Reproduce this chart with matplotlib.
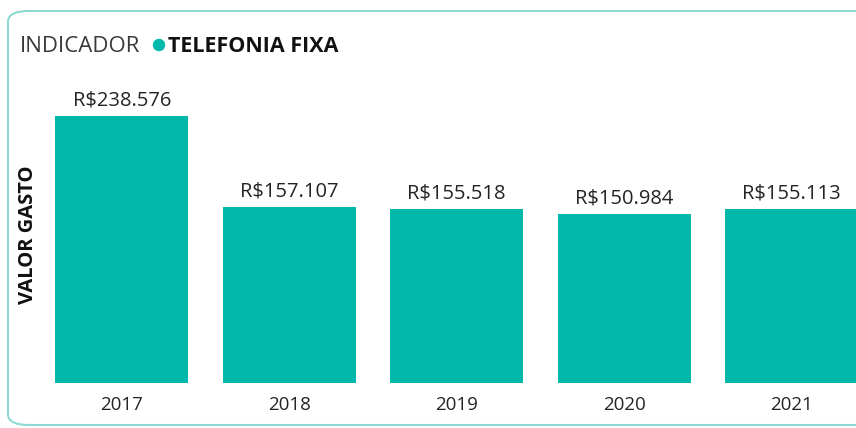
import matplotlib.pyplot as plt
from matplotlib.patches import FancyBboxPatch, Ellipse

anos = ['2017', '2018', '2019', '2020', '2021']
valores = [238576, 157107, 155518, 150984, 155113]
rotulos = ['R$238.576', 'R$157.107', 'R$155.518', 'R$150.984', 'R$155.113']

cor_barra = '#01B8AA'
plt.rcParams['font.family'] = ['Open Sans', 'DejaVu Sans']

fig = plt.figure(figsize=(8.56, 4.28), dpi=100)

# moldura arredondada do visual
borda = FancyBboxPatch((8 / 856, 3 / 428), 880 / 856, 414 / 428,
                       boxstyle='round,pad=0,rounding_size=0.025',
                       transform=fig.transFigure, facecolor='white',
                       edgecolor='#8ED9D2', linewidth=1.5, zorder=-1)
fig.patches.append(borda)

ax = fig.add_axes([38 / 856, 45 / 428, 818 / 856, 303 / 428])
ax.set_facecolor('none')
x = list(range(len(anos)))
ax.bar(x, valores, width=0.795, color=cor_barra)
ax.set_xlim(-0.5, 4.385)
ax.set_ylim(0, 238576 * 303 / 267)

for xi, v, r in zip(x, valores, rotulos):
    ax.annotate(r, (xi, v), xytext=(0, 4), textcoords='offset points',
                ha='center', va='bottom', fontsize=14.5, color='#252423')

ax.set_xticks(x)
ax.set_xticklabels(anos, fontsize=13.5, color='#252423')
ax.tick_params(axis='x', length=0, pad=9)
ax.set_yticks([])
for s in ax.spines.values():
    s.set_visible(False)

fig.text(28 / 856, 1 - 235 / 428, 'VALOR GASTO', rotation=90, ha='center',
         va='center', fontsize=14.5, fontweight='bold', color='#111111')

# legenda
fig.text(20 / 856, 1 - 46 / 428, 'INDICADOR', ha='left', va='center',
         fontsize=16, color='#3B3A39')
fig.patches.append(Ellipse((159 / 856, 1 - 45 / 428), 11 / 856, 11 / 428,
                           transform=fig.transFigure, color=cor_barra))
fig.text(168 / 856, 1 - 46 / 428, 'TELEFONIA FIXA', ha='left', va='center',
         fontsize=15.5, fontweight='bold', color='#111111')

plt.savefig('out.png', dpi=100)
